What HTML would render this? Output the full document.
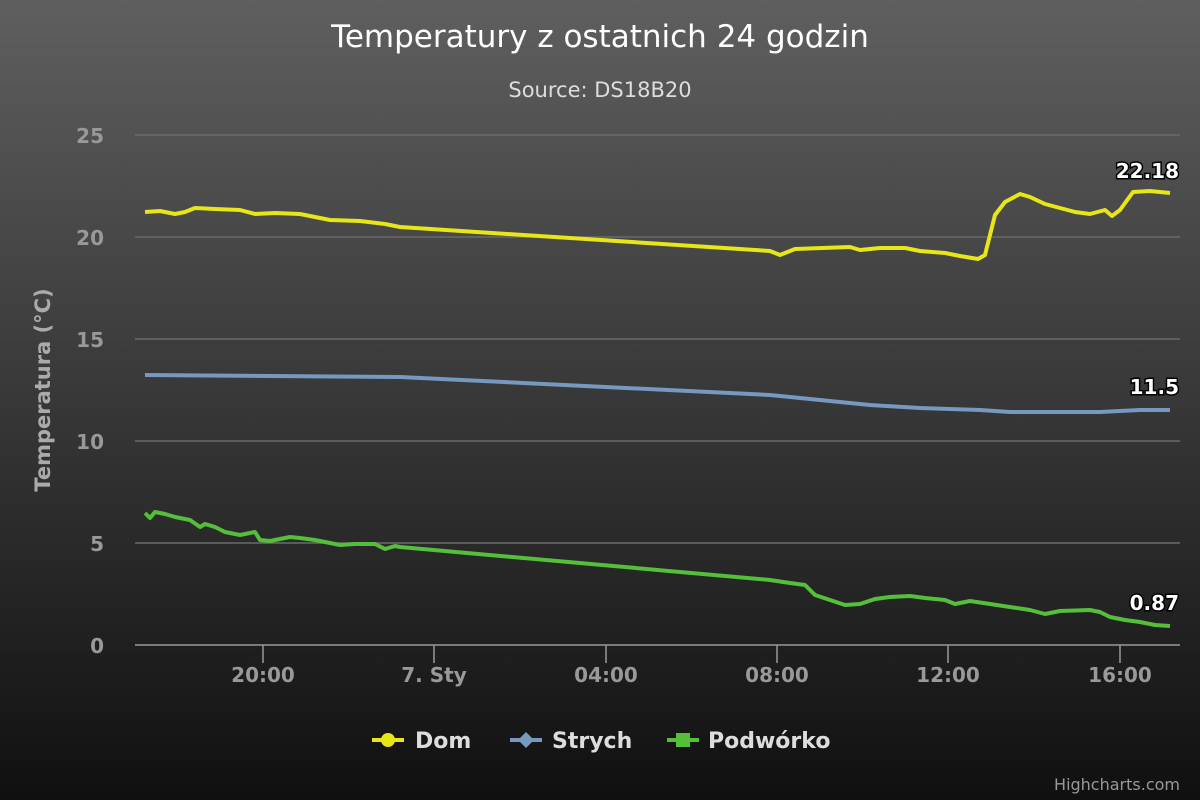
<!DOCTYPE html><html><head><meta charset="utf-8"><style>body{margin:0}svg{display:block}</style></head><body>
<svg width="1200" height="800" xmlns="http://www.w3.org/2000/svg" font-family="DejaVu Sans, Liberation Sans, sans-serif">
<defs><linearGradient id="bg" x1="0" y1="0" x2="0" y2="1"><stop offset="0" stop-color="#5f5f5f"/><stop offset="1" stop-color="#101010"/></linearGradient></defs>
<rect width="1200" height="800" fill="url(#bg)"/>
<text x="600" y="47" fill="#fff" font-size="31" text-anchor="middle">Temperatury z ostatnich 24 godzin</text>
<text x="600" y="97" fill="#ddd" font-size="21" text-anchor="middle">Source: DS18B20</text>
<g stroke="#6a6a6a" stroke-width="1.5">
<line x1="135" y1="135" x2="1180" y2="135"/><line x1="135" y1="237" x2="1180" y2="237"/><line x1="135" y1="339" x2="1180" y2="339"/><line x1="135" y1="441" x2="1180" y2="441"/><line x1="135" y1="543" x2="1180" y2="543"/></g>
<g stroke="#999" stroke-width="1.5"><line x1="135" y1="645" x2="1180" y2="645"/>
<line x1="263" y1="645" x2="263" y2="663"/><line x1="434" y1="645" x2="434" y2="663"/><line x1="606" y1="645" x2="606" y2="663"/><line x1="777" y1="645" x2="777" y2="663"/><line x1="948" y1="645" x2="948" y2="663"/><line x1="1120" y1="645" x2="1120" y2="663"/></g>
<g fill="#999" font-size="20" font-weight="bold" text-anchor="end"><text x="104" y="143">25</text><text x="104" y="245">20</text><text x="104" y="347">15</text><text x="104" y="449">10</text><text x="104" y="551">5</text><text x="104" y="653">0</text></g>
<g fill="#999" font-size="20" font-weight="bold" text-anchor="middle"><text x="263" y="682">20:00</text><text x="434" y="682">7. Sty</text><text x="606" y="682">04:00</text><text x="777" y="682">08:00</text><text x="948" y="682">12:00</text><text x="1120" y="682">16:00</text></g>
<text transform="translate(50,390) rotate(-90)" fill="#aaa" font-size="21" font-weight="bold" text-anchor="middle">Temperatura (°C)</text>
<g fill="none" stroke-width="4" stroke-linejoin="round">
<polyline stroke="#e6e619" points="145,212 160,211 175,214 185,212 195,208 215,209 240,210 255,214 275,213 300,214 330,220 360,221 385,224 400,227 770,251 780,255 795,249 850,247 860,250 880,248 905,248 920,251 945,253 960,256 978,259 985,255 995,215 1005,202 1020,194 1030,197 1045,204 1060,208 1075,212 1090,214 1105,210 1112,216 1120,210 1133,192 1150,191 1170,193"/>
<polyline stroke="#7798bf" points="145,375 400,377 770,395 820,400 870,405 920,408 980,410 1010,412 1100,412 1140,410 1170,410"/>
<polyline stroke="#55bf3b" points="145,513 150,518 155,512 165,514 175,517 190,520 200,527 205,524 215,527 225,532 240,535 255,532 260,540 270,541 290,537 300,538 315,540 340,545 355,544 375,544 385,549 395,546 400,547 770,580 790,583 805,585 815,595 830,600 845,605 860,604 875,599 890,597 910,596 925,598 945,600 955,604 970,601 990,604 1010,607 1030,610 1045,614 1060,611 1090,610 1100,612 1110,617 1125,620 1140,622 1155,625 1170,626"/>
</g>
<g font-size="20" font-weight="bold" fill="#fff" stroke="#000" stroke-width="3" paint-order="stroke" text-anchor="end">
<text x="1179" y="178">22.18</text><text x="1179" y="394">11.5</text><text x="1179" y="610">0.87</text></g>
<g font-size="22" font-weight="bold" fill="#ddd">
<line x1="372" y1="740" x2="404" y2="740" stroke="#e6e619" stroke-width="4"/><circle cx="388" cy="740" r="7" fill="#e6e619"/><text x="415" y="748">Dom</text>
<line x1="510" y1="740" x2="542" y2="740" stroke="#7798bf" stroke-width="4"/><path d="M526 732 L534 740 L526 748 L518 740Z" fill="#7798bf"/><text x="552" y="748">Strych</text>
<line x1="667" y1="740" x2="699" y2="740" stroke="#55bf3b" stroke-width="4"/><rect x="676" y="733" width="14" height="14" fill="#55bf3b"/><text x="708" y="748">Podwórko</text></g>
<text x="1180" y="790" fill="#999" font-size="16" text-anchor="end">Highcharts.com</text>
</svg></body></html>
